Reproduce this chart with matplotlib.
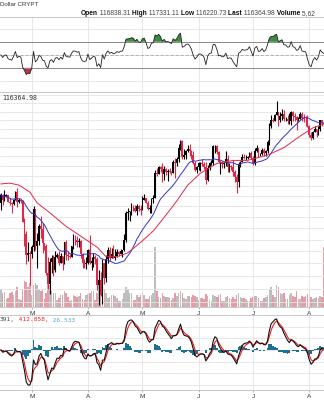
import numpy as np
import pandas as pd
import matplotlib
matplotlib.use("Agg")
import matplotlib.pyplot as plt

# daily bars, 2025-02-12 .. 2025-08-09, prices in thousands of USD
dates = pd.date_range("2025-02-12", "2025-08-09", freq="D")

close_k = [
    97.8, 96.6, 97.5, 97.6, 96.1, 95.8, 95.5, 96.6, 98.3, 96.1, 96.6, 96.3, 91.4, 88.7, 84.3, 84.7, 84.4,
    86.0, 94.3, 86.1, 87.2, 90.6, 89.9, 86.7, 86.2, 80.6, 78.5, 82.9, 83.7, 81.1, 83.9, 84.3, 82.6,
    84.1, 82.7, 86.9, 84.2, 84.0, 83.8, 86.1, 87.5, 87.4, 86.9, 87.2, 84.4, 82.6, 82.3, 82.5,
    85.2, 82.5, 83.1, 83.8, 83.5, 78.2, 79.2, 76.3, 82.6, 79.6, 83.4, 85.3, 83.7, 84.5, 83.6,
    84.0, 84.9, 84.5, 85.1, 85.2, 87.5, 93.4, 93.7, 93.9, 94.7, 94.6, 93.8, 95.0, 94.3, 94.2,
    96.5, 96.9, 95.9, 94.3, 94.7, 96.8, 97.0, 103.2, 102.9, 104.7, 104.1, 102.8, 104.2, 103.5, 103.7,
    103.5, 103.2, 106.0, 105.6, 106.8, 109.7, 111.7, 107.3, 107.8, 109.0, 109.4, 108.9, 107.8, 105.6, 103.9, 104.6,
    105.7, 105.8, 105.4, 104.7, 101.5, 104.4, 105.6, 105.7, 110.3, 110.3, 108.7, 105.9, 106.0, 105.4, 105.6,
    106.8, 104.6, 104.9, 104.7, 103.3, 102.1, 100.9, 105.5, 106.0, 107.3, 107.0, 107.1, 107.3, 108.4, 107.1,
    105.7, 108.8, 109.6, 108.0, 108.2, 109.2, 108.3, 108.9, 111.3, 115.9, 117.5, 117.4, 119.1, 119.8, 117.7, 118.8,
    119.3, 117.9, 117.9, 117.3, 117.4, 119.9, 118.6, 118.4, 117.6, 117.9, 119.4, 118.0, 117.9, 117.8, 115.8,
    113.3, 112.5, 114.2, 115.0, 114.1, 115.0, 117.5, 116.7, 116.4,
]
high_k = [
    98.1, 97.9, 98.8, 97.9, 97.7, 97.0, 96.1, 96.8, 98.7, 99.5, 96.9, 96.6, 96.5, 92.4, 89.3, 87.0, 85.1,
    86.4, 95.0, 94.4, 88.9, 91.0, 92.8, 91.2, 86.8, 86.5, 83.9, 83.6, 84.3, 84.3, 85.1, 84.6, 85.0,
    84.7, 84.1, 87.0, 87.4, 84.8, 84.5, 86.1, 88.7, 88.5, 88.3, 87.8, 87.5, 84.6, 83.5, 83.9,
    85.5, 88.5, 83.9, 84.7, 84.2, 83.8, 81.2, 80.8, 83.5, 82.7, 84.2, 85.9, 86.0, 85.8, 86.4,
    85.4, 85.4, 85.1, 85.6, 85.3, 88.8, 93.8, 94.7, 94.0, 95.8, 95.3, 95.2, 95.6, 95.4, 95.2,
    97.4, 97.9, 96.9, 96.3, 95.2, 96.9, 97.6, 103.8, 104.3, 104.9, 105.0, 105.8, 104.9, 104.3, 104.1,
    104.5, 103.7, 106.6, 107.1, 107.3, 110.7, 111.9, 111.9, 109.5, 109.3, 110.4, 110.7, 109.3, 108.9, 106.3, 104.9,
    105.9, 105.9, 106.8, 106.0, 105.9, 105.3, 105.9, 106.5, 110.6, 110.4, 110.4, 109.0, 106.2, 106.2, 106.0,
    108.9, 107.8, 105.6, 105.2, 106.5, 104.0, 103.0, 106.1, 106.3, 108.1, 108.0, 107.8, 107.6, 108.5, 108.8,
    107.5, 109.8, 110.5, 109.7, 108.4, 109.7, 109.7, 109.2, 111.9, 116.8, 118.9, 118.2, 119.4, 123.1, 119.9, 120.0,
    120.9, 120.6, 118.5, 118.9, 119.7, 120.2, 120.1, 119.5, 118.7, 118.3, 119.8, 119.8, 119.3, 118.8, 118.9,
    116.0, 114.0, 114.4, 115.7, 115.1, 115.7, 117.6, 117.7, 117.3,
]
low_k = [
    94.1, 95.2, 96.3, 97.3, 96.0, 95.2, 93.4, 95.2, 96.4, 94.9, 95.8, 95.9, 91.4, 86.1, 82.3, 83.0, 78.2,
    83.7, 85.1, 85.2, 81.5, 86.4, 87.9, 84.7, 85.3, 80.1, 77.5, 76.6, 80.6, 79.9, 80.8, 83.7, 82.1,
    82.5, 81.2, 82.3, 83.2, 83.2, 83.7, 83.8, 85.6, 86.3, 85.9, 85.9, 83.6, 81.6, 81.6, 81.3,
    82.4, 82.3, 81.2, 81.7, 82.4, 77.2, 74.5, 76.2, 74.6, 78.5, 78.9, 82.7, 83.0, 83.7, 83.6,
    83.2, 83.8, 84.1, 84.4, 83.9, 85.1, 87.1, 91.9, 91.7, 92.9, 93.9, 93.6, 92.9, 93.8, 92.9,
    94.1, 96.4, 95.8, 94.2, 93.5, 93.5, 95.9, 96.9, 102.3, 102.9, 103.4, 100.8, 101.4, 102.6, 101.2,
    103.1, 102.6, 103.1, 102.0, 105.0, 106.1, 109.3, 106.8, 106.9, 106.7, 108.7, 107.6, 106.8, 105.4, 103.7, 103.1,
    103.9, 103.7, 105.0, 104.2, 100.4, 101.1, 103.9, 105.1, 105.3, 108.4, 108.1, 105.7, 102.8, 104.5, 104.5,
    105.0, 103.4, 103.5, 103.9, 102.3, 101.0, 98.2, 99.6, 104.7, 105.9, 106.7, 106.5, 106.9, 107.2, 106.8,
    105.3, 105.2, 108.6, 107.3, 107.5, 107.9, 107.5, 107.5, 108.4, 110.6, 115.3, 116.9, 117.3, 118.9, 115.8, 116.9,
    117.6, 117.4, 117.3, 116.5, 116.5, 116.2, 117.4, 117.4, 114.7, 117.2, 117.8, 117.4, 116.9, 115.8, 115.5,
    112.7, 112.0, 112.1, 114.0, 112.7, 113.4, 114.3, 115.9, 116.2,
]
first_open_k = 95.8

volume = [
    18, 14, 15, 8, 9, 14, 15, 12, 16, 20, 8, 7, 18, 26, 25, 20, 24,
    12, 22, 24, 22, 18, 16, 18, 8, 14, 24, 22, 16, 14, 14, 7, 9, 12, 12, 16, 14, 10, 6, 7, 12, 11, 10, 11, 14, 8, 7, 12,
    13, 14, 16, 16, 7, 14, 26, 20, 24, 18, 14, 9, 10, 12, 12, 11, 9, 6, 6, 8, 14, 20, 18, 14, 14, 7, 7, 12, 10, 12,
    14, 12, 8, 8, 11, 12, 14, 60, 16, 10, 9, 14, 11, 10, 10, 9, 7, 9, 14, 11, 14, 16, 14, 9, 8, 11, 11, 10, 12, 11, 10,
    7, 9, 9, 8, 13, 11, 7, 6, 12, 11, 10, 12, 13, 6, 6, 10, 11, 9, 8, 10, 8, 12, 14, 10, 9, 9, 8, 6, 6, 9,
    10, 11, 11, 9, 6, 6, 9, 10, 12, 18, 20, 12, 10, 22, 20, 14, 13, 14, 8, 8, 12, 14, 11, 10, 16, 8, 8, 11, 10, 11, 13,
    18, 10, 8, 9, 10, 9, 11, 10, 60,
]

# slow moving average (red)
slow_ma_dates = ["2025-02-12", "2025-02-17", "2025-02-22", "2025-02-28", "2025-03-04", "2025-03-11",
                 "2025-03-20", "2025-03-29", "2025-04-06", "2025-04-11", "2025-04-17", "2025-04-23",
                 "2025-04-30", "2025-05-07", "2025-05-15", "2025-05-20", "2025-05-26", "2025-06-02",
                 "2025-06-11", "2025-06-20", "2025-06-28", "2025-07-09", "2025-07-18", "2025-07-27",
                 "2025-08-03", "2025-08-09"]
slow_ma_k = [100.4, 100.6, 100.1, 98.4, 95.8, 93.5, 90.4, 88.0, 85.9, 83.9, 83.9, 84.7, 86.9,
             89.4, 93.5, 96.3, 100.1, 103.1, 105.6, 106.4, 106.4, 107.8, 109.8, 113.0, 115.3, 116.4]

header_labels = ["Open", "High", "Low", "Last", "Volume"]
header_values = ["116838.31", "117331.11", "116220.73", "116364.98", "5,62"]
last_price_text = "116364.98"
macd_values_text = ["391,", "412.858,", "26.533"]

# ---------------------------------------------------------------
c = pd.Series(close_k) * 1000
h = np.array(high_k) * 1000
l = np.array(low_k) * 1000
o = np.concatenate([[first_open_k * 1000], c.values[:-1]])
vol = np.array(volume, dtype=float)
x = np.arange(len(c))
up = c.values >= o

fast_ma = c.rolling(20, min_periods=1).mean()
slow_x = [(pd.Timestamp(d) - dates[0]).days for d in slow_ma_dates]
slow_y = np.array(slow_ma_k) * 1000

# RSI, seeded neutral so the first days don't swing to the extremes
n = 10
delta = c.diff()
up_mv = delta.clip(lower=0)
dn_mv = (-delta).clip(lower=0)
seed = delta.abs().mean() / 2
up_mv.iloc[0] = seed
dn_mv.iloc[0] = seed
gain = up_mv.ewm(alpha=1 / n, adjust=False).mean()
loss = dn_mv.ewm(alpha=1 / n, adjust=False).mean()
rsi = 100 - 100 / (1 + gain / loss)

macd = c.ewm(span=4, adjust=False).mean() - c.ewm(span=12, adjust=False).mean()
signal = macd.ewm(span=3, adjust=False).mean()
hist = macd - signal

month_idx = [i for i, d in enumerate(dates) if d.day == 1]
month_lab = [dates[i].strftime("%b")[0] for i in month_idx]

GRID = "#e4e4e4"
RED = "#e0284a"
plt.rcParams["font.family"] = ["Liberation Sans", "DejaVu Sans"]

fig = plt.figure(figsize=(3.24, 4.0), dpi=100)
W, H = 324, 400


def panel(top, bottom):
    ax = fig.add_axes([0, 1 - bottom / H, 1, (bottom - top) / H])
    ax.set_xlim(-0.47, 178.1)
    ax.set_xticks(month_idx)
    ax.set_xticklabels(month_lab)
    ax.tick_params(axis="x", length=1.5, width=0.5, color="#999999", pad=1.2,
                   labelsize=4.6, labelcolor="#333333")
    ax.grid(True, color=GRID, lw=0.6)
    ax.set_axisbelow(True)
    for s in ["left", "right"]:
        ax.spines[s].set_visible(False)
    for s in ["top", "bottom"]:
        ax.spines[s].set_color("#c8c8c8")
        ax.spines[s].set_linewidth(0.7)
    return ax


# RSI panel
ax1 = panel(17, 92)
ax1.set_ylim(-7, 108)
ax1.set_yticks([10, 30, 50, 70, 90])
ax1.tick_params(axis="x", labelbottom=False, length=0)
ax1.tick_params(axis="y", left=False, labelleft=False)
ax1.axhline(70, color="#8a8a8a", lw=0.7)
ax1.axhline(30, color="#8a8a8a", lw=0.7)
ax1.axhline(50, color="#aaaaaa", lw=0.6, ls=(0, (4, 2)))
ax1.plot(x, rsi, color="#222222", lw=0.6)
ax1.fill_between(x, rsi, 70, where=rsi > 70, interpolate=True, color="#3c8c3c", lw=0)
ax1.fill_between(x, rsi, 30, where=rsi < 30, interpolate=True, color="#c0304a", lw=0)

# price panel
ax2 = panel(92, 307)
ax2.set_yscale("log")
ax2.set_ylim(74100, 125970)
ax2.set_yticks(np.arange(75000, 126000, 2500))
ax2.yaxis.set_minor_locator(matplotlib.ticker.NullLocator())

axv = ax2.twinx()
axv.set_ylim(0, vol.max() * 3.6)
axv.axis("off")
axv.bar(x, vol, width=0.85, color=np.where(up, "#a8a8a8", "#e07a88"), alpha=0.75, lw=0)
ax2.set_zorder(axv.get_zorder() + 1)
ax2.patch.set_visible(False)
ax2.tick_params(axis="y", which="both", left=False, right=False, labelleft=False, labelright=False)

col = np.where(up, "#000000", RED)
ax2.vlines(x, l, h, colors=col, lw=0.8)
ax2.bar(x, np.abs(c.values - o), bottom=np.minimum(c.values, o), width=0.9, color=col, lw=0)
ax2.plot(x, fast_ma, color="#3535c0", lw=0.7)
ax2.plot(slow_x, slow_y, color=RED, lw=0.7)
ax2.text(0.006, 0.985, last_price_text, transform=ax2.transAxes, ha="left", va="top",
         fontsize=4.7, family="DejaVu Sans Mono", color="#333333")

# MACD panel
ax3 = panel(315, 390)
ax3.tick_params(axis="y", left=False, labelleft=False)
m = np.abs(macd).max() / 35.0
ax3.set_ylim(-40 * m, 35 * m)
ax3.set_yticks(np.arange(-3, 3) * 11.7 * m)
ax3.bar(x, hist, width=1.0, color="#1f6f93", lw=0)
ax3.plot(x, signal, color="#e8201e", lw=0.8)
ax3.plot(x, macd, color="#111111", lw=0.8)

# header texts
fig.text(0.0, 1 - 5 / H, "Dollar CRYPT", ha="left", va="center", fontsize=4.4, color="#333333")
prev = None
for lab, val in zip(header_labels, header_values):
    if prev is None:
        t = fig.text(81 / W, 1 - 13.5 / H, lab, ha="left", va="center", fontsize=4.8,
                     fontweight="bold", color="#111111")
    else:
        t = ax1.annotate(" " + lab, xy=(1, 0), xycoords=prev, ha="left", va="bottom",
                         fontsize=4.8, fontweight="bold", color="#111111", annotation_clip=False)
    prev = ax1.annotate(" " + val, xy=(1, 0), xycoords=t, ha="left", va="bottom",
                        fontsize=4.8, color="#444444", annotation_clip=False)

cols = ["#444444", "#e8201e", "#4aa8d8"]
t = fig.text(0.0, 1 - 320 / H, macd_values_text[0], ha="left", va="center", fontsize=4.4,
             family="DejaVu Sans Mono", color=cols[0])
for s, cc in zip(macd_values_text[1:], cols[1:]):
    t = ax3.annotate(" " + s, xy=(1, 0), xycoords=t, ha="left", va="bottom", fontsize=4.4,
                     family="DejaVu Sans Mono", color=cc, annotation_clip=False)

fig.savefig("out.png", dpi=100)
